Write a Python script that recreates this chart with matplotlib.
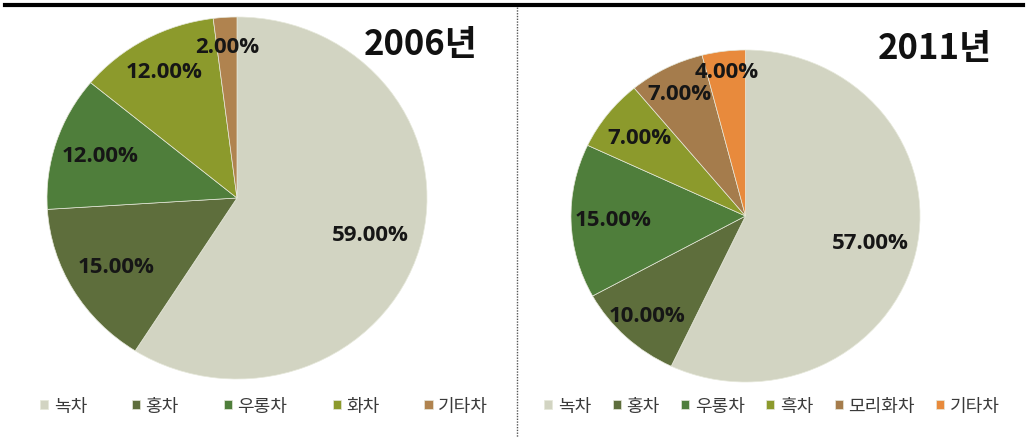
import matplotlib
matplotlib.use("Agg")
import matplotlib.pyplot as plt
from matplotlib.lines import Line2D
import numpy as np

plt.rcParams['font.family'] = ['Noto Sans CJK KR', 'DejaVu Sans']

# 2006년 data
labels_2006 = ['녹차', '홍차', '우롱차', '화차', '기타차']
values_2006 = [59, 15, 12, 12, 2]
colors_2006 = ['#d2d4c2', '#5e6e3c', '#4f7e3b', '#8c9a2c', '#b0834f']

# 2011년 data
labels_2011 = ['녹차', '홍차', '우롱차', '흑차', '모리화차', '기타차']
values_2011 = [57, 10, 15, 7, 7, 4]
colors_2011 = ['#d2d4c2', '#5e6e3c', '#4f7e3b', '#8c9a2c', '#a57c4c', '#e88a3c']

titles = ['2006년', '2011년']

W, H = 1028, 439
fig = plt.figure(figsize=(W / 100, H / 100), dpi=100)


def px_axes(left, top, right, bottom):
    return fig.add_axes([left / W, 1 - bottom / H, (right - left) / W, (bottom - top) / H])


def draw_pie(ax, values, colors, pct_dist):
    wedges, _, autotexts = ax.pie(values, colors=colors, startangle=90, counterclock=False,
                                  autopct='%.2f%%', pctdistance=0.78,
                                  wedgeprops=dict(edgecolor='#e6e8da', linewidth=0.5))
    ax.set_aspect('auto')
    ax.set_xlim(-1, 1)
    ax.set_ylim(-1, 1)
    for w, t, d in zip(wedges, autotexts, pct_dist):
        a = np.deg2rad((w.theta1 + w.theta2) / 2)
        t.set_position((d * np.cos(a), d * np.sin(a)))
        t.set_fontfamily('Open Sans')
        t.set_fontweight('bold')
        t.set_fontsize(16)
        t.set_color('#161616')
    return wedges


ax1 = px_axes(47, 18, 427, 380)
w1 = draw_pie(ax1, values_2006, colors_2006, [0.73, 0.74, 0.76, 0.80, 0.84])

ax2 = px_axes(571, 51, 920, 383)
w2 = draw_pie(ax2, values_2011, colors_2011, [0.73, 0.82, 0.76, 0.77, 0.83, 0.88])

fig.text(421 / W, 1 - 45 / H, titles[0], ha='center', va='center',
         fontsize=25, fontweight='bold', color='#111111')
fig.text(935 / W, 1 - 48 / H, titles[1], ha='center', va='center',
         fontsize=25, fontweight='bold', color='#111111')

leg_kw = dict(loc='center', frameon=False, handlelength=0.45, handleheight=0.45,
              handletextpad=0.3, fontsize=13, labelcolor='#3a3a3a')
fig.legend(w1, labels_2006, bbox_to_anchor=(264 / W, 1 - 407 / H), ncol=5,
           columnspacing=2.5, **leg_kw)
fig.legend(w2, labels_2011, bbox_to_anchor=(772 / W, 1 - 407 / H), ncol=6,
           columnspacing=1.2, **leg_kw)

# top rule and dotted divider
fig.add_artist(Line2D([5 / W, 1023 / W], [1 - 5.5 / H, 1 - 5.5 / H], color='black', lw=3))
fig.add_artist(Line2D([517 / W, 517 / W], [1 - 8 / H, 0], color='#555555', lw=1,
                      linestyle=(0, (1, 1))))

fig.savefig('out.png', dpi=100)
